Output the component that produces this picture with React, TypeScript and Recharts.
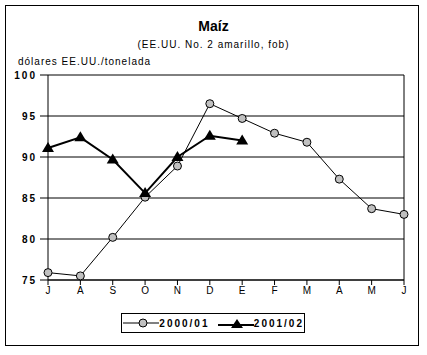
import { LineChart, Line, XAxis, YAxis, CartesianGrid, ReferenceLine } from "recharts";

const meses = ["J", "A", "S", "O", "N", "D", "E", "F", "M", "A", "M", "J"];
const serie2000 = [75.9, 75.5, 80.2, 85.1, 88.9, 96.5, 94.7, 92.9, 91.8, 87.3, 83.7, 83.0];
const serie2001 = [91.1, 92.4, 89.7, 85.6, 90.0, 92.6, 92.0];
const yTicks = [75, 80, 85, 90, 95, 100];

const data = meses.map((m, i) => ({
  i,
  mes: m,
  a: serie2000[i],
  b: i < serie2001.length ? serie2001[i] : null,
}));

const font = "'Liberation Sans', Arial, sans-serif";

function Triangle(props: any) {
  const { cx, cy } = props;
  if (cx == null || cy == null) return null;
  return <polygon points={`${cx},${cy - 6} ${cx - 6},${cy + 4} ${cx + 6},${cy + 4}`} fill="#000" />;
}

function Circle(props: any) {
  const { cx, cy } = props;
  if (cx == null || cy == null) return null;
  return <circle cx={cx} cy={cy} r={4} fill="#c0c0c0" stroke="#000" strokeWidth={1} />;
}

export default function App() {
  return (
    <div style={{ position: "absolute", left: 0, top: 0, width: 427, height: 355, background: "#fff", fontFamily: font }}>
      <div style={{ position: "absolute", left: 5, top: 5, width: 412, height: 339, border: "1px solid #000" }} />
      <div style={{ position: "absolute", left: 0, width: 427, top: 18, textAlign: "center", fontWeight: "bold", fontSize: 14 }}>
        Maíz
      </div>
      <div style={{ position: "absolute", left: 0, width: 427, top: 39, textAlign: "center", fontSize: 10, letterSpacing: 1 }}>
        (EE.UU. No. 2 amarillo, fob)
      </div>
      <div style={{ position: "absolute", left: 18, top: 56, fontSize: 10, letterSpacing: 1 }}>
        dólares EE.UU./tonelada
      </div>
      <LineChart width={427} height={355} data={data} margin={{ top: 75, right: 23, left: 0, bottom: 50 }}>
        <CartesianGrid vertical={false} stroke="#000" strokeWidth={1} />
        <XAxis
          dataKey="i"
          type="number"
          domain={[0, 11]}
          ticks={data.map((d) => d.i)}
          tickFormatter={(v: number) => meses[v]}
          axisLine={{ stroke: "#000" }}
          tickLine={{ stroke: "#000" }}
          tickSize={5}
          tick={{ fill: "#000", fontSize: 10, fontFamily: font }}
          height={25}
        />
        <YAxis
          domain={[75, 100]}
          ticks={yTicks}
          width={48}
          axisLine={{ stroke: "#000" }}
          tickLine={{ stroke: "#000" }}
          tickSize={8}
          tickMargin={3}
          tick={{ fill: "#000", fontSize: 10, fontWeight: "bold", fontFamily: font, letterSpacing: 2 }}
        />
        <ReferenceLine x={11} stroke="#000" />
        <Line dataKey="a" stroke="#000" strokeWidth={1} dot={<Circle />} isAnimationActive={false} />
        <Line dataKey="b" stroke="#000" strokeWidth={2} dot={<Triangle />} isAnimationActive={false} connectNulls={false} />
      </LineChart>
      <div
        style={{
          position: "absolute",
          left: 121,
          top: 313,
          width: 182,
          height: 18,
          border: "1px solid #000",
          display: "flex",
          alignItems: "center",
          fontSize: 10,
          fontWeight: "bold",
          letterSpacing: 2,
        }}
      >
        <svg width={40} height={14} style={{ marginLeft: 1 }}>
          <line x1={0} y1={7} x2={40} y2={7} stroke="#000" />
          <circle cx={20} cy={7} r={4} fill="#c0c0c0" stroke="#000" />
        </svg>
        <span>2000/01</span>
        <svg width={40} height={14} style={{ marginLeft: 8 }}>
          <line x1={0} y1={9} x2={40} y2={9} stroke="#000" strokeWidth={2} />
          <polygon points="19,3 13,12 25,12" fill="#000" />
        </svg>
        <span>2001/02</span>
      </div>
    </div>
  );
}
